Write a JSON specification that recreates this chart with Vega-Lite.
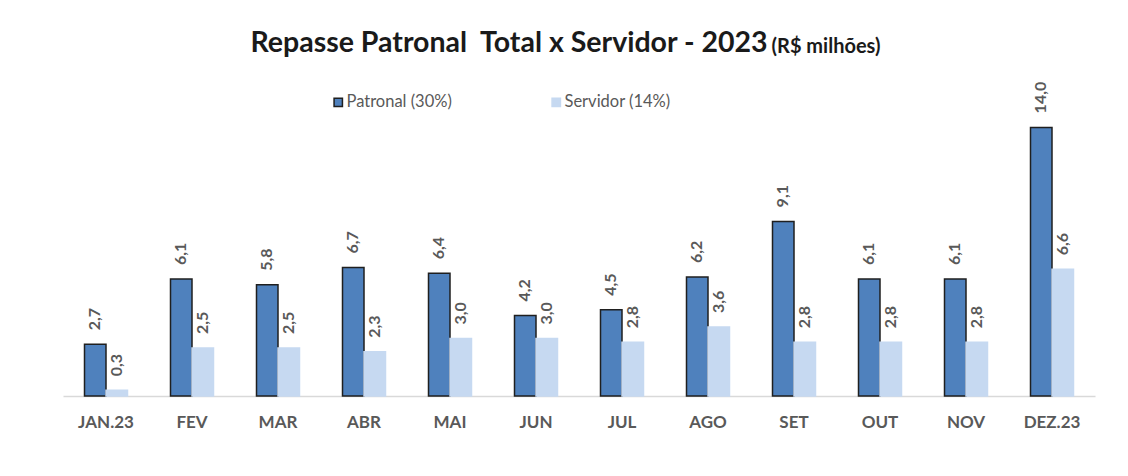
{
  "$schema": "https://vega.github.io/schema/vega-lite/v6.json",
  "width": 1032,
  "height": 307,
  "autosize": {"type": "none"},
  "padding": {"left": 63, "top": 89, "right": 33, "bottom": 80},
  "background": "white",
  "config": {
    "view": {"stroke": null},
    "font": "Lato",
    "locale": {"number": {"decimal": ",", "thousands": ".", "grouping": [3], "currency": ["R$", ""]}}
  },
  "title": {
    "text": "Repasse Patronal\u00a0 Total x Servidor - 2023",
    "font": "Lato",
    "fontSize": 28.5,
    "fontWeight": "bold",
    "color": "#1a1a1a",
    "anchor": "middle",
    "frame": "group",
    "dx": -70,
    "offset": -43,
    "baseline": "alphabetic"
  },
  "data": {
    "values": [
      {"mes": "JAN.23", "serie": "Patronal (30%)", "valor": 2.7},
      {"mes": "JAN.23", "serie": "Servidor (14%)", "valor": 0.3},
      {"mes": "FEV", "serie": "Patronal (30%)", "valor": 6.1},
      {"mes": "FEV", "serie": "Servidor (14%)", "valor": 2.5},
      {"mes": "MAR", "serie": "Patronal (30%)", "valor": 5.8},
      {"mes": "MAR", "serie": "Servidor (14%)", "valor": 2.5},
      {"mes": "ABR", "serie": "Patronal (30%)", "valor": 6.7},
      {"mes": "ABR", "serie": "Servidor (14%)", "valor": 2.3},
      {"mes": "MAI", "serie": "Patronal (30%)", "valor": 6.4},
      {"mes": "MAI", "serie": "Servidor (14%)", "valor": 3.0},
      {"mes": "JUN", "serie": "Patronal (30%)", "valor": 4.2},
      {"mes": "JUN", "serie": "Servidor (14%)", "valor": 3.0},
      {"mes": "JUL", "serie": "Patronal (30%)", "valor": 4.5},
      {"mes": "JUL", "serie": "Servidor (14%)", "valor": 2.8},
      {"mes": "AGO", "serie": "Patronal (30%)", "valor": 6.2},
      {"mes": "AGO", "serie": "Servidor (14%)", "valor": 3.6},
      {"mes": "SET", "serie": "Patronal (30%)", "valor": 9.1},
      {"mes": "SET", "serie": "Servidor (14%)", "valor": 2.8},
      {"mes": "OUT", "serie": "Patronal (30%)", "valor": 6.1},
      {"mes": "OUT", "serie": "Servidor (14%)", "valor": 2.8},
      {"mes": "NOV", "serie": "Patronal (30%)", "valor": 6.1},
      {"mes": "NOV", "serie": "Servidor (14%)", "valor": 2.8},
      {"mes": "DEZ.23", "serie": "Patronal (30%)", "valor": 14.0},
      {"mes": "DEZ.23", "serie": "Servidor (14%)", "valor": 6.6}
    ]
  },
  "layer": [
    {
      "mark": {"type": "bar", "strokeWidth": 1.5},
      "encoding": {
        "x": {
          "field": "mes",
          "type": "nominal",
          "sort": null,
          "scale": {"paddingInner": 0.5, "paddingOuter": 0.25},
          "axis": {
            "title": null,
            "labelAngle": 0,
            "ticks": false,
            "domainColor": "#d9d9d9",
            "domainWidth": 1.5,
            "labelFont": "Lato",
            "labelFontSize": 17,
            "labelFontWeight": "bold",
            "labelColor": "#595959",
            "labelPadding": 18,
            "labelBaseline": "top",
            "grid": false
          }
        },
        "xOffset": {"field": "serie", "type": "nominal", "sort": ["Patronal (30%)", "Servidor (14%)"]},
        "y": {"field": "valor", "type": "quantitative", "scale": {"domain": [0, 16]}, "axis": null},
        "fill": {
          "field": "serie",
          "type": "nominal",
          "scale": {"domain": ["Patronal (30%)", "Servidor (14%)"], "range": ["#4f81bd", "#c6d9f1"]},
          "legend": {
            "title": null,
            "orient": "none",
            "legendX": 267,
            "legendY": 5,
            "direction": "horizontal",
            "padding": 0,
            "symbolType": "square",
            "symbolSize": 70,
            "symbolStrokeWidth": 1.5,
            "labelFont": "Lato",
            "labelFontSize": 16.5,
            "labelColor": "#595959",
            "labelOffset": 0,
            "columnPadding": 96
          }
        },
        "stroke": {
          "field": "serie",
          "type": "nominal",
          "scale": {"domain": ["Patronal (30%)", "Servidor (14%)"], "range": ["#1f1f1f", "#c6d9f1"]},
          "legend": null
        }
      }
    },
    {
      "mark": {"type": "text", "angle": 270, "align": "left", "baseline": "middle", "dx": 14, "font": "Lato", "fontSize": 16, "fontWeight": "bold", "color": "#595959"},
      "encoding": {
        "x": {"field": "mes", "type": "nominal", "sort": null},
        "xOffset": {"field": "serie", "type": "nominal", "sort": ["Patronal (30%)", "Servidor (14%)"]},
        "y": {"field": "valor", "type": "quantitative"},
        "text": {"field": "valor", "type": "quantitative", "format": ".1f"}
      }
    },
    {
      "data": {"values": [{"mes": "SET", "texto": "(R$ milhões)"}]},
      "mark": {"type": "text", "align": "center", "baseline": "alphabetic", "dx": 32, "font": "Lato", "fontSize": 20, "fontWeight": "bold", "color": "#1a1a1a"},
      "encoding": {
        "x": {"field": "mes", "type": "nominal", "sort": null, "bandPosition": 0.5},
        "y": {"datum": 17.87, "type": "quantitative"},
        "text": {"field": "texto", "type": "nominal"}
      }
    }
  ]
}
